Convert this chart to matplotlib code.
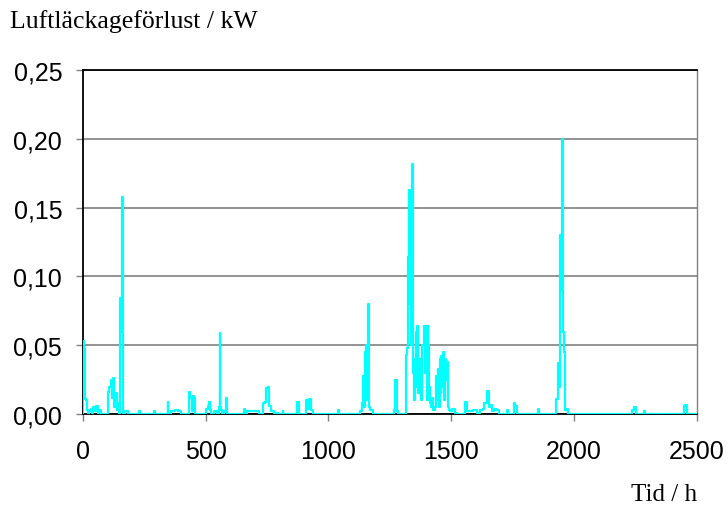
import matplotlib
matplotlib.use("Agg")
import matplotlib.pyplot as plt
import numpy as np

# hour / air leakage loss (kW)
hours = [0, 2, 5, 8, 10, 14, 18, 22, 28, 35, 40, 45, 52, 58, 62, 70, 80,
         100, 105, 110, 115, 120, 125, 130, 135, 140, 145, 150, 152, 156, 160, 163, 166, 175, 190,
         229, 231, 233, 290, 292, 294, 344, 346, 348, 370, 380, 395, 400,
         430, 435, 440, 446, 450, 455, 460, 500, 505, 512, 516, 520, 525,
         540, 555, 557, 559, 561, 565, 570, 580, 584, 588, 600,
         655, 658, 662, 675, 700, 730, 735, 745, 750, 755, 760, 770, 785, 800,
         812, 814, 816, 870, 877, 882, 905, 912, 918, 925, 930, 940,
         1038, 1041, 1044, 1125, 1130, 1140, 1145, 1148, 1152, 1157, 1160, 1163, 1166, 1175, 1185,
         1265, 1270, 1276, 1280, 1290, 1316, 1318, 1322, 1324, 1328, 1332, 1336, 1340, 1344, 1347,
         1350, 1353, 1357, 1360, 1365, 1368, 1372, 1376, 1380, 1385, 1390, 1394, 1398, 1402, 1405,
         1408, 1412, 1415, 1420, 1425, 1430, 1435, 1440, 1443, 1447, 1450, 1455, 1458, 1462, 1466,
         1470, 1473, 1477, 1480, 1485, 1488, 1492, 1500, 1510, 1520, 1530,
         1555, 1561, 1565, 1575, 1600, 1610, 1625, 1630, 1640, 1649, 1655, 1663, 1670, 1677, 1690, 1700,
         1727, 1730, 1733, 1752, 1757, 1764, 1770, 1852, 1855, 1858,
         1925, 1932, 1938, 1942, 1945, 1949, 1952, 1956, 1960, 1963, 1968, 1975, 1980,
         2235, 2240, 2248, 2255, 2284, 2287, 2290, 2445, 2450, 2458, 2462, 2500]
loss = [0.0, 0.053, 0.047, 0.03, 0.011, 0.01, 0.003, 0.0, 0.002, 0.004, 0.001, 0.005, 0.002, 0.006, 0.001, 0.003, 0.0,
        0.0, 0.016, 0.02, 0.025, 0.012, 0.026, 0.005, 0.015, 0.003, 0.008, 0.0, 0.084, 0.06, 0.158, 0.12, 0.0, 0.002, 0.0,
        0.0, 0.002, 0.0, 0.0, 0.002, 0.0, 0.0, 0.009, 0.0, 0.002, 0.003, 0.002, 0.0,
        0.0, 0.016, 0.012, 0.002, 0.013, 0.012, 0.0, 0.0, 0.004, 0.006, 0.009, 0.003, 0.0,
        0.002, 0.0, 0.005, 0.059, 0.005, 0.003, 0.0, 0.002, 0.012, 0.0, 0.0,
        0.0, 0.004, 0.0, 0.002, 0.002, 0.0, 0.008, 0.009, 0.019, 0.02, 0.006, 0.002, 0.001, 0.0,
        0.0, 0.002, 0.0, 0.0, 0.009, 0.0, 0.0, 0.01, 0.004, 0.011, 0.003, 0.0,
        0.0, 0.003, 0.0, 0.0, 0.002, 0.008, 0.028, 0.005, 0.045, 0.05, 0.01, 0.08, 0.005, 0.003, 0.0,
        0.0, 0.003, 0.025, 0.002, 0.0, 0.0, 0.043, 0.048, 0.114, 0.08, 0.163, 0.12, 0.05, 0.182, 0.03,
        0.01, 0.04, 0.02, 0.06, 0.064, 0.015, 0.04, 0.03, 0.01, 0.05, 0.064, 0.03, 0.064, 0.01, 0.064,
        0.05, 0.02, 0.008, 0.005, 0.012, 0.003, 0.005, 0.028, 0.01, 0.033, 0.005, 0.04, 0.015, 0.042, 0.02,
        0.045, 0.01, 0.04, 0.025, 0.038, 0.005, 0.003, 0.002, 0.004, 0.001, 0.0,
        0.0, 0.009, 0.002, 0.002, 0.003, 0.001, 0.003, 0.004, 0.008, 0.017, 0.005, 0.007, 0.002, 0.004, 0.003, 0.0,
        0.0, 0.003, 0.0, 0.0, 0.008, 0.006, 0.0, 0.0, 0.004, 0.0,
        0.0, 0.011, 0.037, 0.02, 0.13, 0.09, 0.2, 0.06, 0.045, 0.005, 0.003, 0.004, 0.0,
        0.0, 0.003, 0.005, 0.0, 0.0, 0.002, 0.0, 0.0, 0.006, 0.007, 0.0, 0.0]

yticks = [0.0, 0.05, 0.10, 0.15, 0.20, 0.25]
ytick_labels = ["0,00", "0,05", "0,10", "0,15", "0,20", "0,25"]
xticks = [0, 500, 1000, 1500, 2000, 2500]

fig = plt.figure(figsize=(7.28, 5.10), dpi=100)
ax = fig.add_axes([0.114, 0.186, 0.843, 0.675])

ax.plot(hours, loss, color="#00FFFF", lw=1.6, drawstyle="steps-mid", zorder=3)

ax.set_xlim(0, 2500)
ax.set_ylim(0, 0.25)
ax.set_yticks(yticks)
ax.set_yticklabels(ytick_labels)
ax.set_xticks(xticks)
ax.yaxis.grid(True, color="#808080", lw=1.2)
ax.set_axisbelow(True)

for s in ["top", "left", "bottom"]:
    ax.spines[s].set_color("black")
    ax.spines[s].set_linewidth(1.3)
ax.spines["right"].set_color("#808080")
ax.spines["right"].set_linewidth(1.0)

ax.tick_params(axis="both", labelsize=18, color="#808080", length=5, width=1)
ax.tick_params(axis="x", pad=13)
ax.tick_params(axis="y", pad=10)
for lab in ax.get_xticklabels() + ax.get_yticklabels():
    lab.set_fontfamily("Liberation Sans")

fig.text(0.014, 0.957, "Luftläckageförlust / kW", fontsize=18.5,
         family="Liberation Serif", ha="left", va="center")
fig.text(0.958, 0.03, "Tid / h", fontsize=18,
         family="Liberation Serif", ha="right", va="center")

fig.savefig("out.png", dpi=100)
